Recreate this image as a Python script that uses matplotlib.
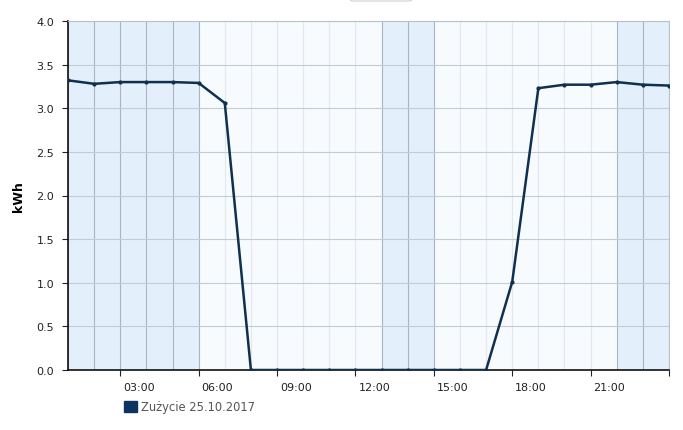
import matplotlib
matplotlib.use('Agg')
import matplotlib.pyplot as plt
import matplotlib.patches as mpatches
import matplotlib.transforms as mtransforms

# hourly consumption, hour 1..24
hours = list(range(1, 25))
kwh = [3.32, 3.28, 3.30, 3.30, 3.30, 3.29, 3.06, 0.0, 0.0, 0.0, 0.0, 0.0,
       0.0, 0.0, 0.0, 0.0, 0.0, 1.01, 3.23, 3.27, 3.27, 3.30, 3.27, 3.26]

# shaded (tariff) bands, in hours
bands = [(1, 6), (13, 15), (22, 24)]
tick_hours = [3, 6, 9, 12, 15, 18, 21]
tick_labels = ['03:00', '06:00', '09:00', '12:00', '15:00', '18:00', '21:00']
y_ticks = [0.0, 0.5, 1.0, 1.5, 2.0, 2.5, 3.0, 3.5, 4.0]
series_label = 'Zużycie 25.10.2017'

LINE = '#10304f'
BAND = '#e3effa'
PLAIN = '#f7fbfe'

fig = plt.figure(figsize=(6.83, 4.31), dpi=100)
ax = fig.add_axes([68 / 683, 1 - 371 / 431, 601 / 683, 349 / 431])
ax.set_facecolor(PLAIN)

for a, b in bands:
    ax.axvspan(a, b, color=BAND, lw=0, zorder=0)

# hourly vertical grid: darker inside bands
for h in hours:
    in_band = any(a <= h <= b for a, b in bands)
    ax.axvline(h, color='#a8b6c4' if in_band else '#e2e8ee', lw=0.8, zorder=1)
for y in y_ticks:
    ax.axhline(y, color='#c3cbd3', lw=0.8, zorder=1)

ax.plot(hours, kwh, color=LINE, lw=1.8, marker='o', markersize=2.0, zorder=3)

ax.set_xlim(1, 24)
ax.set_ylim(0, 4)
ax.set_xticks(tick_hours + [24])
ax.set_xticklabels(tick_labels + [''])
ax.set_yticks(y_ticks)
ax.set_yticklabels([f'{v:.1f}' for v in y_ticks])
ax.tick_params(axis='both', labelsize=8, colors='#222', length=4, width=0.8)
ax.tick_params(axis='x', pad=5)
ax.tick_params(axis='y', pad=6)
ax.set_ylabel('kWh', fontsize=9, fontweight='bold', labelpad=8)

# x labels sit just right of their tick
shift = mtransforms.ScaledTranslation(3 / 100, 0, fig.dpi_scale_trans)
for lbl in ax.get_xticklabels():
    lbl.set_horizontalalignment('left')
    lbl.set_transform(lbl.get_transform() + shift)

for s in ['left', 'bottom']:
    ax.spines[s].set_color('#111')
    ax.spines[s].set_linewidth(1.2)
for s in ['top', 'right']:
    ax.spines[s].set_color('#b8c2cc')
    ax.spines[s].set_linewidth(0.8)

# legend below the plot
fig.legend(handles=[mpatches.Patch(color='#0d3461', label=series_label)],
           loc='center left', bbox_to_anchor=(114 / 683, 1 - 408 / 431),
           frameon=False, fontsize=8.3, handlelength=1.1, handleheight=1.1,
           handletextpad=0.35, labelcolor='#555')

# clipped button outline at the top
fig.patches.append(mpatches.FancyBboxPatch(
    (350 / 683, 1 - 2 / 431), 62 / 683, 10 / 431,
    boxstyle='round,pad=0,rounding_size=0.005', transform=fig.transFigure,
    fc='white', ec='#d0d0d0', lw=0.8))

fig.savefig('out.png', dpi=100)
